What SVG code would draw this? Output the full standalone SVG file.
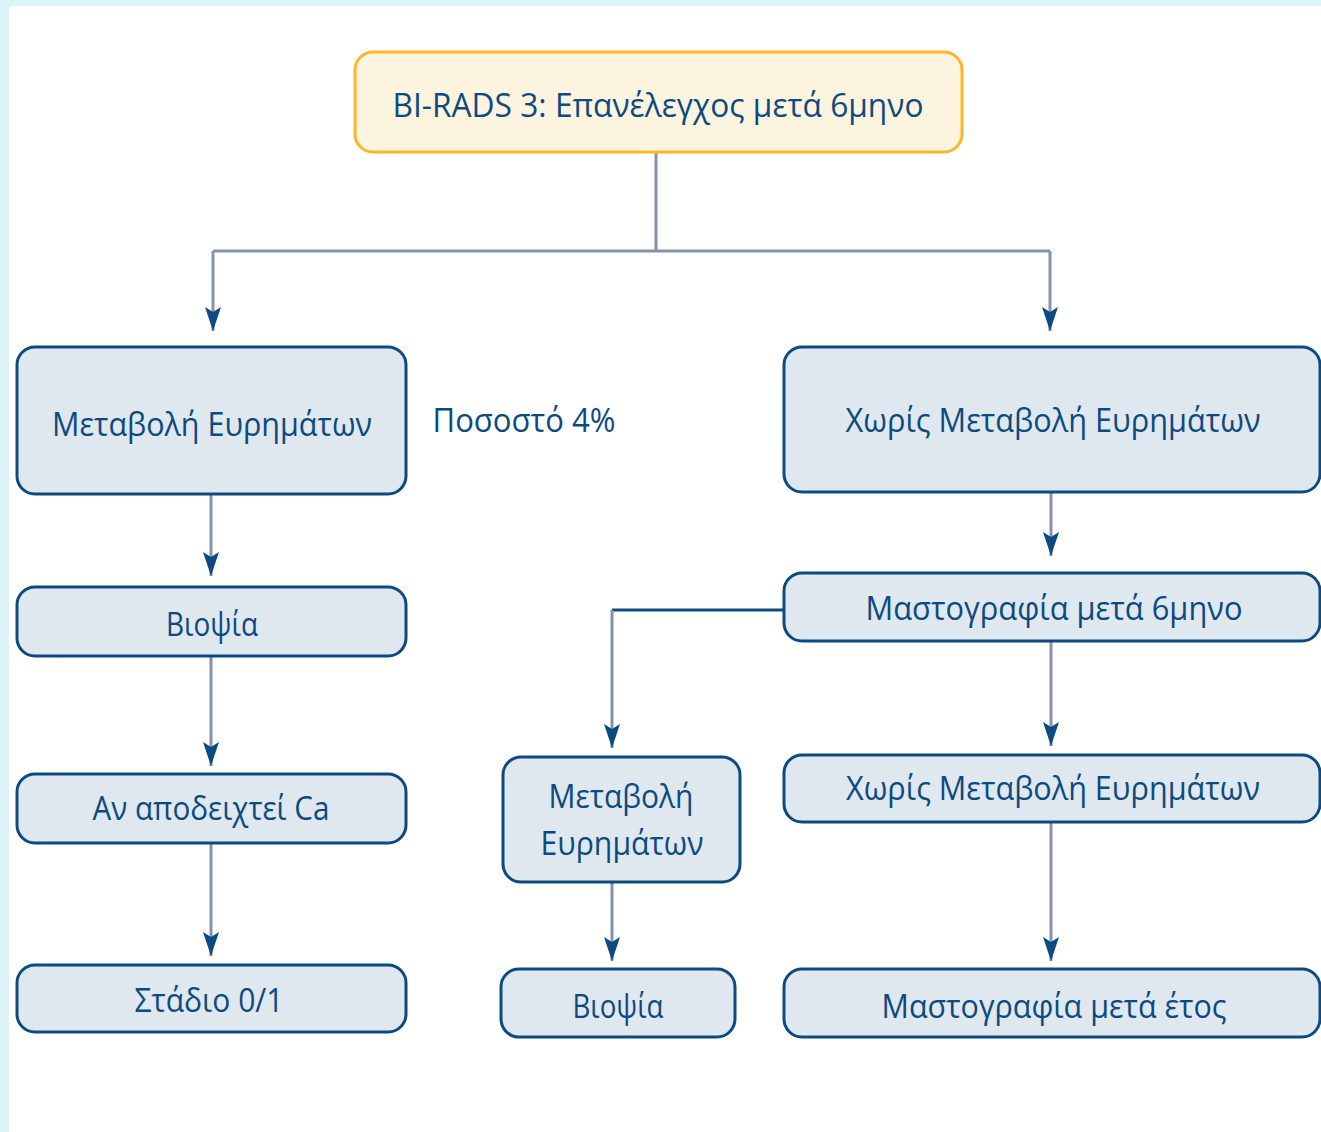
<svg xmlns="http://www.w3.org/2000/svg" width="1321" height="1132" viewBox="0 0 1321 1132">
<style>
.box{fill:#dfe7ef;stroke:#0d4a80;stroke-width:3}
.top{fill:#fdf4e0;stroke:#fbb62a;stroke-width:3}
.t{font-family:"Open Sans","Liberation Sans",sans-serif;font-size:32px;fill:#0d4a80;text-anchor:middle}
.c{fill:none;stroke:#8493ad;stroke-width:3}
.cd{fill:none;stroke:#0d4a80;stroke-width:3}
</style>
<defs>
<marker id="ah" markerUnits="userSpaceOnUse" markerWidth="28" markerHeight="20" viewBox="-26 -10 28 20" refX="0" refY="0" orient="auto">
<path d="M0,0 L-24,-8 L-19,0 L-24,8 Z" fill="#0d4a80"/>
</marker>
</defs>
<rect x="0" y="0" width="1321" height="1132" fill="#dcf4f8"/>
<rect x="9" y="6" width="1312" height="1126" fill="#ffffff"/>
<g id="connectors">
<path class="c" d="M656,152 V251 M213,251 H1050"/>
<path class="c" d="M213,251 V331" marker-end="url(#ah)"/>
<path class="c" d="M1050,251 V331" marker-end="url(#ah)"/>
<path class="c" d="M211,494 V576" marker-end="url(#ah)"/>
<path class="c" d="M211,656 V766" marker-end="url(#ah)"/>
<path class="c" d="M211,843 V956" marker-end="url(#ah)"/>
<path class="c" d="M1051,492 V556" marker-end="url(#ah)"/>
<path class="c" d="M1051,641 V746" marker-end="url(#ah)"/>
<path class="c" d="M1051,822 V961" marker-end="url(#ah)"/>
<path class="cd" d="M784,610 H612"/>
<path class="c" d="M612,610 V748" marker-end="url(#ah)"/>
<path class="c" d="M612,882 V961" marker-end="url(#ah)"/>
</g>
<g id="n-top"><rect class="top" x="355" y="52" width="607" height="100" rx="18"/><text class="t" x="658" y="117" textLength="531" lengthAdjust="spacingAndGlyphs">BI-RADS 3: Επανέλεγχος μετά 6μηνο</text></g>
<g id="n-left1"><rect class="box" x="17" y="347" width="389" height="147" rx="18"/><text class="t" x="212" y="436" textLength="320" lengthAdjust="spacingAndGlyphs">Μεταβολή Ευρημάτων</text></g>
<g id="n-pct"><text class="t" x="524" y="432" textLength="183" lengthAdjust="spacingAndGlyphs">Ποσοστό 4%</text></g>
<g id="n-right1"><rect class="box" x="784" y="347" width="536" height="145" rx="18"/><text class="t" x="1053" y="432" textLength="415" lengthAdjust="spacingAndGlyphs">Χωρίς Μεταβολή Ευρημάτων</text></g>
<g id="n-left2"><rect class="box" x="17" y="587" width="389" height="69" rx="18"/><text class="t" x="212" y="636" textLength="92" lengthAdjust="spacingAndGlyphs">Βιοψία</text></g>
<g id="n-left3"><rect class="box" x="17" y="774" width="389" height="69" rx="18"/><text class="t" x="211" y="820" textLength="237" lengthAdjust="spacingAndGlyphs">Αν αποδειχτεί Ca</text></g>
<g id="n-left4"><rect class="box" x="17" y="965" width="389" height="67" rx="18"/><text class="t" x="209" y="1012" textLength="149" lengthAdjust="spacingAndGlyphs">Στάδιο 0/1</text></g>
<g id="n-right2"><rect class="box" x="784" y="573" width="536" height="68" rx="18"/><text class="t" x="1054" y="620" textLength="377" lengthAdjust="spacingAndGlyphs">Μαστογραφία μετά 6μηνο</text></g>
<g id="n-mid1"><rect class="box" x="503" y="757" width="237" height="125" rx="18"/><text class="t" x="621" y="808" textLength="145" lengthAdjust="spacingAndGlyphs">Μεταβολή</text><text class="t" x="622" y="855" textLength="163" lengthAdjust="spacingAndGlyphs">Ευρημάτων</text></g>
<g id="n-right3"><rect class="box" x="784" y="755" width="536" height="67" rx="18"/><text class="t" x="1053" y="800" textLength="414" lengthAdjust="spacingAndGlyphs">Χωρίς Μεταβολή Ευρημάτων</text></g>
<g id="n-mid2"><rect class="box" x="501" y="969" width="234" height="68" rx="18"/><text class="t" x="618" y="1018" textLength="91" lengthAdjust="spacingAndGlyphs">Βιοψία</text></g>
<g id="n-right4"><rect class="box" x="784" y="969" width="536" height="68" rx="18"/><text class="t" x="1054" y="1018" textLength="345" lengthAdjust="spacingAndGlyphs">Μαστογραφία μετά έτος</text></g>
</svg>
